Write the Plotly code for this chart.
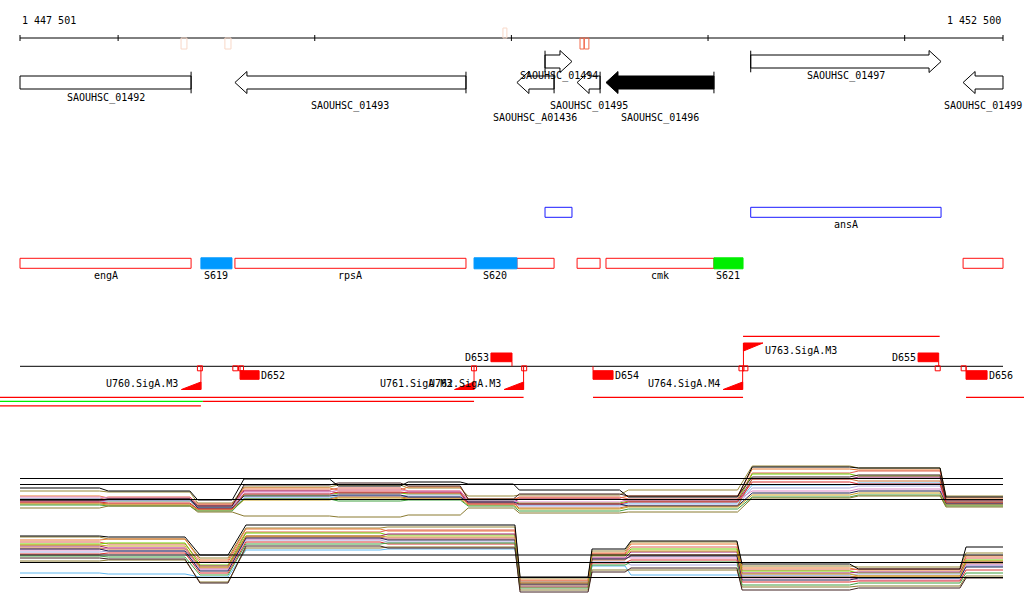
import plotly.graph_objects as go

# ------------------------------------------------------------------ data
window_start, window_end = 1447501, 1452500
axis_ticks = [1447501, 1448000, 1449000, 1450000, 1451000, 1452000, 1452500]
axis_label_left, axis_label_right = "1 447 501", "1 452 500"

# TSS signals on the coordinate axis
tss_start = [1448320, 1448543, 1449957, 1450349, 1450371]
tss_end = [1448350, 1448574, 1449977, 1450369, 1450394]
tss_strand = ["-", "-", "+", "-", "-"]
tss_score = [0.15, 0.2, 0.1, 0.8, 0.8]

# annotated genes
gene_names = ["SAOUHSC_01492", "SAOUHSC_01493", "SAOUHSC_01494", "SAOUHSC_A01436",
              "SAOUHSC_01495", "SAOUHSC_01496", "SAOUHSC_01497", "SAOUHSC_01499"]
gene_start = [1447300, 1448594, 1450171, 1450028, 1450334, 1450481, 1451217, 1452297]
gene_end = [1448371, 1449769, 1450308, 1450217, 1450451, 1451030, 1452185, 1452700]
gene_strand = ["-", "-", "+", "-", "-", "-", "+", "-"]
gene_highlight = [False, False, False, False, False, True, False, False]

# operon-like annotation row
op_names = ["", "ansA"]
op_start = [1450171, 1451217]
op_end = [1450308, 1452185]

# CDS annotation row
cds_names = ["engA", "rpsA", "", "", "cmk", ""]
cds_start = [1447300, 1448594, 1450028, 1450334, 1450481, 1452297]
cds_end = [1448371, 1449769, 1450217, 1450451, 1451030, 1452700]

# segments
seg_names = ["S619", "S620", "S621"]
seg_start = [1448421, 1449810, 1451030]
seg_end = [1448579, 1450028, 1451178]
seg_class = ["A", "A", "B"]

# promoters
prom_names = ["U760.SigA.M3", "U761.SigA.M3", "U762.SigA.M3", "U763.SigA.M3", "U764.SigA.M4"]
prom_pos = [1448421, 1449810, 1450062, 1451180, 1451176]
prom_strand = ["-", "-", "-", "+", "-"]

# terminators / down shifts
term_names = ["D652", "D653", "D654", "D655", "D656"]
term_start = [1448620, 1449896, 1450415, 1452068, 1452312]
term_end = [1448717, 1450003, 1450517, 1452173, 1452419]
term_strand = ["-", "+", "-", "+", "-"]

# segmentation breakpoints
breakpoints = [1448416, 1448596, 1448625, 1449810, 1450065, 1451170, 1451190, 1452168, 1452300]

# transcription units
tu_start = [1447300, 1447300, 1448431, 1447300, 1450415, 1452312, 1451178]
tu_end = [1450062, 1448431, 1449810, 1448421, 1451178, 1452700, 1452178]
tu_lane = [0, 1, 1, 2, 0, 0, -1]
tu_class = ["r", "g", "r", "r", "r", "r", "r"]

# expression profiles, + strand (upper panel): regions and levels
plus_reg_start = [1447501, 1447950, 1448405, 1448640, 1449120, 1449475, 1449780,
                  1450040, 1450595, 1451225, 1451765, 1452210]
plus_reg_end = [1447905, 1448365, 1448580, 1449075, 1449435, 1449740, 1450010,
                1450550, 1451150, 1451720, 1452180, 1452500]
plus_ref = [12.3, 11.1, 8.1]
P_c01 = [10.4, 9.8, 8.0, 12.2, 10.8, 11.6, 11.2, 10.0, 8.6, 14.6, 14.4, 8.6]
P_c02 = [9.8, 9.6, 7.4, 10.6, 11.0, 10.4, 8.8, 9.0, 10.0, 14.8, 14.4, 8.8]
P_c03 = [8.8, 8.4, 7.0, 10.4, 10.0, 10.6, 8.2, 8.4, 8.8, 14.2, 14.0, 8.4]
P_c04 = [8.2, 8.6, 7.2, 10.0, 10.4, 9.8, 8.0, 8.6, 8.2, 13.4, 13.8, 8.0]
P_c05 = [8.0, 7.8, 6.6, 9.0, 9.4, 9.2, 7.8, 7.4, 7.8, 13.2, 12.8, 7.6]
P_c06 = [7.8, 8.0, 6.8, 9.8, 9.4, 9.6, 7.6, 8.2, 7.8, 12.2, 12.6, 7.4]
P_c07 = [8.2, 8.0, 6.4, 8.4, 8.8, 8.6, 8.0, 7.0, 7.4, 11.0, 11.4, 7.6]
P_c08 = [7.6, 7.8, 6.6, 9.2, 8.8, 9.0, 7.4, 6.8, 7.0, 10.4, 10.8, 7.2]
P_c09 = [7.4, 7.2, 6.2, 8.2, 8.6, 8.4, 7.4, 6.4, 6.8, 12.2, 11.8, 7.4]
P_c10 = [8.6, 8.4, 6.8, 9.6, 10.0, 9.8, 7.8, 7.6, 8.0, 9.8, 10.2, 8.0]
P_c11 = [8.0, 8.2, 6.4, 8.8, 9.0, 8.6, 7.6, 7.2, 6.8, 9.4, 9.8, 7.2]
P_c12 = [7.2, 7.0, 6.0, 8.0, 8.4, 8.2, 7.0, 6.2, 6.6, 9.0, 9.4, 7.0]
P_c13 = [7.6, 7.4, 6.2, 9.2, 9.6, 9.4, 7.2, 7.2, 7.6, 11.6, 11.2, 7.6]
P_c14 = [7.0, 6.8, 5.8, 8.2, 7.8, 8.0, 6.8, 5.8, 6.2, 8.6, 9.0, 6.8]
P_c15 = [6.4, 6.8, 5.6, 4.8, 4.6, 5.0, 6.4, 5.4, 5.6, 8.4, 8.8, 6.6]
P_c16 = [8.0, 8.2, 6.8, 11.0, 11.4, 10.8, 8.2, 9.2, 8.8, 12.6, 13.0, 8.0]

# expression profiles, - strand (lower panel)
minus_reg_start = [1447501, 1447950, 1448416, 1448650, 1449372, 1450044, 1450410,
                   1450608, 1451173, 1451765, 1452312]
minus_reg_end = [1447905, 1448340, 1448559, 1449332, 1450018, 1450390, 1450578,
                 1451147, 1451720, 1452281, 1452500]
minus_ref = [12.4, 10.9, 7.9]
M_c01 = [16.2, 16.0, 12.4, 18.4, 18.4, 8.0, 13.6, 15.2, 10.6, 9.6, 14.0]
M_c02 = [16.0, 15.6, 11.8, 17.8, 18.0, 7.8, 13.2, 15.0, 10.2, 10.0, 12.8]
M_c03 = [15.4, 15.6, 11.4, 17.6, 17.2, 7.4, 12.8, 14.6, 9.8, 9.4, 12.2]
M_c04 = [15.0, 14.6, 11.0, 17.0, 17.4, 7.2, 12.6, 14.0, 9.4, 9.6, 11.8]
M_c05 = [14.6, 14.8, 10.4, 16.8, 16.4, 7.0, 12.2, 13.6, 9.2, 8.8, 11.4]
M_c06 = [14.2, 13.8, 10.2, 16.2, 16.6, 6.8, 11.8, 13.0, 8.8, 9.0, 11.0]
M_c07 = [8.8, 8.6, 8.0, 13.4, 13.6, 6.2, 10.2, 8.4, 8.2, 7.8, 10.2]
M_c08 = [13.0, 13.2, 9.4, 15.4, 15.0, 6.6, 11.0, 10.4, 8.4, 8.6, 10.6]
M_c09 = [13.8, 13.6, 9.8, 16.0, 15.6, 6.4, 11.4, 12.4, 8.0, 8.2, 10.8]
M_c10 = [13.4, 13.8, 9.6, 15.6, 15.8, 7.0, 12.0, 11.8, 7.8, 7.4, 10.4]
M_c11 = [13.6, 13.2, 9.2, 15.8, 15.4, 6.6, 11.6, 12.2, 7.4, 7.8, 10.0]
M_c12 = [14.4, 14.2, 10.0, 16.2, 16.0, 6.8, 12.4, 13.2, 8.6, 8.2, 11.2]
M_c13 = [12.6, 12.8, 8.8, 15.0, 14.6, 6.0, 10.8, 11.4, 7.0, 7.2, 9.4]
M_c14 = [12.2, 12.0, 8.4, 14.6, 14.8, 5.8, 10.4, 11.0, 6.4, 6.8, 8.8]
M_c15 = [11.2, 11.4, 7.0, 13.8, 14.0, 5.4, 9.4, 9.4, 6.0, 6.2, 8.2]
M_c16 = [11.8, 11.6, 6.8, 14.2, 13.8, 5.0, 9.0, 9.8, 5.4, 5.8, 7.8]

# ------------------------------------------------------------------ layout / styles
BP_PX = (window_end - window_start) / 983.0
X0 = window_start - 20 * BP_PX
X1 = X0 + 1024 * BP_PX
FONT = dict(family="DejaVu Sans Mono", size=10, color="black")

cond_colors = ["#000000", "#9a8a3a", "#e87830", "#e06050", "#70d000", "#a02070",
               "#60b8f0", "#a8a8e0", "#c86a30", "#e088c8", "#202050", "#c8a020",
               "#d83030", "#40a040", "#8a7a30", "#402020"]
plus_conds = [P_c01, P_c02, P_c03, P_c04, P_c05, P_c06, P_c07, P_c08,
              P_c09, P_c10, P_c11, P_c12, P_c13, P_c14, P_c15, P_c16]
minus_conds = [M_c01, M_c02, M_c03, M_c04, M_c05, M_c06, M_c07, M_c08,
               M_c09, M_c10, M_c11, M_c12, M_c13, M_c14, M_c15, M_c16]

fig = go.Figure()
annos = []


def clip(v):
    return min(max(v, window_start), window_end)


def add_lines(xs, ys, color, width=1, yaxis="y"):
    fig.add_trace(go.Scatter(x=xs, y=ys, mode="lines", yaxis=yaxis,
                             line=dict(color=color, width=width),
                             hoverinfo="skip", showlegend=False))


def add_polys(polys, fill, line, width=1):
    xs, ys = [], []
    for px, py in polys:
        xs += list(px) + [px[0], None]
        ys += list(py) + [py[0], None]
    fig.add_trace(go.Scatter(x=xs, y=ys, mode="lines", fill="toself", fillcolor=fill,
                             line=dict(color=line, width=width),
                             hoverinfo="skip", showlegend=False))


def rect(s, e, y0, y1):
    return [s, e, e, s], [y0, y0, y1, y1]


def label(x, y, text, anchor="center"):
    annos.append(dict(x=x, y=y, xref="x", yref="y", text=text, showarrow=False,
                      xanchor=anchor, yanchor="middle", font=FONT))


# ---- coordinate axis
AX_Y = 38
add_lines([window_start, window_end], [AX_Y, AX_Y], "black")
tx, ty = [], []
for t in axis_ticks:
    tx += [t, t, None]
    ty += [AX_Y - 3, AX_Y + 3, None]
add_lines(tx, ty, "black")
label(window_start, 20, axis_label_left, "left")
label(window_end, 20, axis_label_right, "right")

for s, e, st, sc in zip(tss_start, tss_end, tss_strand, tss_score):
    col = "#f26a4c" if sc > 0.5 else "#f8d8c8"
    y0, y1 = (AX_Y, AX_Y + 11) if st == "-" else (AX_Y - 10, AX_Y)
    add_polys([rect(s, e, y0, y1)], "rgba(255,255,255,0)", col)

# ---- genes
ROW_Y = {"+": 61.5, "-": 82.5}
gene_label_y = [98, 106, 76, 118, 106, 118, 76, 106]
HEAD = 12 * BP_PX
BH, HH, BAR = 6.5, 11, 10.8
bars_x, bars_y = [], []
for name, s, e, st, hl, ly in zip(gene_names, gene_start, gene_end, gene_strand,
                                  gene_highlight, gene_label_y):
    c = ROW_Y[st]
    vs, ve = clip(s), clip(e)
    if st == "-":
        if s >= window_start:
            px = [s, s + HEAD, s + HEAD, ve, ve, s + HEAD, s + HEAD]
            py = [c, c - HH, c - BH, c - BH, c + BH, c + BH, c + HH]
        else:
            px, py = rect(vs, ve, c - BH, c + BH)
        if e <= window_end:
            bars_x += [e, e, None]
            bars_y += [c - BAR, c + BAR, None]
    else:
        if e <= window_end:
            px = [e, e - HEAD, e - HEAD, vs, vs, e - HEAD, e - HEAD]
            py = [c, c - HH, c - BH, c - BH, c + BH, c + BH, c + HH]
        else:
            px, py = rect(vs, ve, c - BH, c + BH)
        if s >= window_start:
            bars_x += [s, s, None]
            bars_y += [c - BAR, c + BAR, None]
    add_polys([(px, py)], "black" if hl else "white", "black")
    label((vs + ve) / 2, ly, name)
add_lines(bars_x, bars_y, "black")

# ---- operon row
OP_Y0, OP_Y1 = 207.3, 217.3
add_polys([rect(clip(s), clip(e), OP_Y0, OP_Y1) for s, e in zip(op_start, op_end)],
          "white", "#1a1aff")
for n, s, e in zip(op_names, op_start, op_end):
    if n:
        label((clip(s) + clip(e)) / 2, 224.5, n)

# ---- CDS + segments row
C_Y0, C_Y1 = 258.3, 268.3
add_polys([rect(clip(s), clip(e), C_Y0, C_Y1) for s, e in zip(cds_start, cds_end)],
          "white", "#ff1010")
for n, s, e in zip(cds_names, cds_start, cds_end):
    if n:
        label((clip(s) + clip(e)) / 2, 275.5, n)
seg_color = {"A": "#0099ff", "B": "#00ee00"}
for n, s, e, k in zip(seg_names, seg_start, seg_end, seg_class):
    add_polys([rect(s, e, C_Y0 - 0.5, C_Y1 + 0.5)], seg_color[k], seg_color[k])
    label((s + e) / 2, 275.5, n)

# ---- promoter / terminator track
LINE_Y = 366.3
add_lines([window_start, window_end], [LINE_Y, LINE_Y], "black")
RAMP = 19.5 * BP_PX
RED = "#ff0000"
vx, vy, tris = [], [], []
for n, p, st in zip(prom_names, prom_pos, prom_strand):
    if st == "-":
        vx += [p, p, None]; vy += [LINE_Y, 389.5, None]
        tris.append(([p - RAMP, p, p], [389.5, 389.5, 382]))
        label(p - RAMP - 1 * BP_PX, 383.3, n, "right")
    else:
        vx += [p, p, None]; vy += [LINE_Y, 343, None]
        tris.append(([p, p + RAMP, p], [343, 343, 351]))
        label(p + RAMP, 350.5, n, "left")
rects = []
for n, s, e, st in zip(term_names, term_start, term_end, term_strand):
    if st == "-":
        rects.append(rect(s, e, 370.7, 379.3))
        vx += [s, s, None]; vy += [LINE_Y, 370.7, None]
        label(e, 375, n, "left")
    else:
        rects.append(rect(s, e, 353, 361.7))
        vx += [e, e, None]; vy += [361.7, LINE_Y, None]
        label(s, 357.3, n, "right")
add_lines(vx, vy, RED)
add_polys(tris + rects, RED, RED)
fig.add_trace(go.Scatter(x=breakpoints, y=[368.3] * len(breakpoints), mode="markers",
                         marker=dict(symbol="square-open", size=5, color=RED,
                                     line=dict(width=1, color=RED)),
                         hoverinfo="skip", showlegend=False))

# ---- transcription units
lane_y = {-1: 336.3, 0: 397.3, 1: 401.3, 2: 405.8}
tu_color = {"r": "#ff0000", "g": "#00ee00"}
for s, e, ln, k in zip(tu_start, tu_end, tu_lane, tu_class):
    add_lines([s, e], [lane_y[ln], lane_y[ln]], tu_color[k], width=1.3)

# ---- expression panels
def profile(starts, ends, vals):
    xs, ys = [], []
    for s, e, v in zip(starts, ends, vals):
        xs += [s, e]
        ys += [v, v]
    return xs, ys


order = list(range(1, 16)) + [0]
for i in order:
    xs, ys = profile(plus_reg_start, plus_reg_end, plus_conds[i])
    add_lines(xs, ys, cond_colors[i], width=1, yaxis="y2")
    xs, ys = profile(minus_reg_start, minus_reg_end, minus_conds[i])
    add_lines(xs, ys, cond_colors[i], width=1, yaxis="y3")
for r in plus_ref:
    add_lines([window_start, window_end], [r, r], "black", width=1.2, yaxis="y2")
for r in minus_ref:
    add_lines([window_start, window_end], [r, r], "black", width=1.2, yaxis="y3")

fig.update_layout(
    width=1024, height=611,
    margin=dict(l=0, r=0, t=0, b=0),
    paper_bgcolor="white", plot_bgcolor="rgba(0,0,0,0)",
    showlegend=False,
    xaxis=dict(range=[X0, X1], visible=False, domain=[0, 1]),
    yaxis=dict(range=[611, 0], visible=False, domain=[0, 1]),
    yaxis2=dict(range=[4, 17], visible=False, domain=[1 - 520 / 611, 1 - 455 / 611],
                anchor="x"),
    yaxis3=dict(range=[3, 19], visible=False, domain=[1 - 602 / 611, 1 - 522 / 611],
                anchor="x"),
    annotations=annos,
)
fig.write_html("out.html", config={"displayModeBar": False},
               post_script="document.body.style.margin='0px';")
